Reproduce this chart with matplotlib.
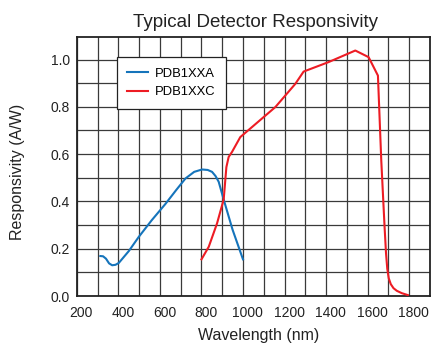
import matplotlib
matplotlib.use("Agg")
import matplotlib.pyplot as plt
import matplotlib.transforms as mtransforms
import numpy as np

plt.rcParams['font.family'] = ['Liberation Sans', 'DejaVu Sans']

# PDB1XXA (blue)
wl_a = [313, 326, 340, 355, 370, 386, 402, 450, 498, 560, 627, 680, 723, 765, 803, 830, 851, 868, 883, 907, 950, 1000]
resp_a = [0.169, 0.168, 0.158, 0.138, 0.130, 0.132, 0.140, 0.190, 0.250, 0.320, 0.390, 0.450, 0.497, 0.525, 0.535, 0.533, 0.525, 0.507, 0.483, 0.408, 0.280, 0.155]

# PDB1XXC (red)
wl_c = [800, 835, 875, 907, 920, 931, 947, 987, 1156, 1252, 1292, 1412, 1541, 1605, 1650,
        1666, 1682, 1689, 1695, 1702, 1712, 1725, 1741, 1765, 1794]
resp_c = [0.155, 0.208, 0.307, 0.408, 0.545, 0.588, 0.609, 0.672, 0.799, 0.897, 0.949, 0.989, 1.038, 1.010, 0.932,
          0.574, 0.292, 0.180, 0.115, 0.075, 0.050, 0.033, 0.022, 0.012, 0.004]

labels = ["PDB1XXA", "PDB1XXC"]
xticks = [200, 400, 600, 800, 1000, 1200, 1400, 1600, 1800]
yticks = [0.0, 0.2, 0.4, 0.6, 0.8, 1.0]

fig = plt.figure(figsize=(4.32, 3.43), dpi=100)
ax = fig.add_axes([0.178, 0.137, 0.817, 0.755])

ax.plot(wl_a, resp_a, color='#1574BB', lw=1.5, label=labels[0], zorder=3)
ax.plot(wl_c, resp_c, color='#ED1C24', lw=1.5, label=labels[1], zorder=3)

ax.set_xlim(200, 1900)
ax.set_ylim(0, 1.095)
ax.set_xticks(xticks)
ax.set_yticks(yticks)
ax.set_yticklabels([f"{v:.1f}" for v in yticks])
ax.set_xticks(np.arange(300, 1900, 100), minor=True)
ax.set_yticks(np.arange(0.1, 1.1, 0.1), minor=True)
ax.grid(True, which='both', color='#3a3a3a', lw=0.9, zorder=1)
ax.tick_params(which='both', length=0, labelsize=10, colors='#222222')
ax.tick_params(axis='x', pad=7)
ax.tick_params(axis='y', pad=5)
shift = mtransforms.ScaledTranslation(0.045, 0, fig.dpi_scale_trans)
for lbl in ax.get_xticklabels():
    lbl.set_transform(lbl.get_transform() + shift)
for s in ax.spines.values():
    s.set_color('#222222')
    s.set_linewidth(1.3)

ax.set_title("Typical Detector Responsivity", fontsize=13.5, color='#222222', pad=7, x=0.505)
ax.set_xlabel("Wavelength (nm)", fontsize=11.5, color='#222222')
ax.xaxis.set_label_coords(0.516, -0.122)
ax.set_ylabel("Responsivity (A/W)", fontsize=11.5, color='#222222')
ax.yaxis.set_label_coords(-0.148, 0.479)

leg = ax.legend(loc='upper left', bbox_to_anchor=(0.113, 0.923), fontsize=9.4,
                frameon=True, fancybox=False, framealpha=1, edgecolor='#222222',
                handlelength=1.6, handletextpad=0.5, borderpad=0.8, labelspacing=0.5,
                borderaxespad=0)
leg.get_frame().set_linewidth(0.9)
leg.set_zorder(5)

fig.savefig("out.png", dpi=100)
